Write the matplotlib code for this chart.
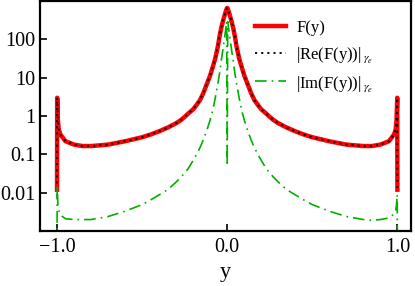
import matplotlib
matplotlib.use("Agg")
import matplotlib.pyplot as plt
from matplotlib.ticker import FixedLocator, FixedFormatter

plt.rcParams["font.family"] = ["Liberation Serif", "DejaVu Serif"]
plt.rcParams["mathtext.fontset"] = "stix"

# values (log scale)
y_pts = [-1.0, -0.999, -0.995, -0.99, -0.98, -0.95, -0.9, -0.85, -0.8, -0.7,
         -0.6, -0.5, -0.45, -0.4, -0.35, -0.3, -0.27, -0.25, -0.23, -0.2,
         -0.18, -0.16, -0.14, -0.12, -0.1, -0.085, -0.07, -0.055, -0.045,
         -0.035, -0.025, -0.015, -0.007, -0.003, 0.0,
         0.003, 0.007, 0.015, 0.025, 0.035, 0.045, 0.055, 0.07, 0.085, 0.1,
         0.12, 0.14, 0.16, 0.18, 0.2, 0.23, 0.25, 0.27, 0.3, 0.35, 0.4, 0.45,
         0.5, 0.6, 0.7, 0.8, 0.85, 0.9, 0.95, 0.98, 0.99, 0.995, 0.999, 1.0]

f_vals = [0.012, 3.0, 0.8, 0.45, 0.33, 0.22, 0.18, 0.165, 0.165, 0.18,
          0.22, 0.28, 0.33, 0.4, 0.5, 0.65, 0.8, 0.95, 1.15, 1.5,
          1.95, 2.6, 4.0, 6.8, 11.5, 19.0, 32.0, 65.0, 120.0,
          200.0, 300.0, 430.0, 560.0, 630.0, 660.0,
          630.0, 560.0, 430.0, 300.0, 200.0, 120.0, 65.0, 32.0, 19.0, 11.5,
          6.8, 4.0, 2.6, 1.95, 1.5, 1.15, 0.95, 0.8, 0.65, 0.5, 0.4, 0.33,
          0.28, 0.22, 0.18, 0.165, 0.165, 0.18, 0.22, 0.33, 0.45, 0.8, 3.0, 0.012]

re_vals = f_vals

im_vals = [0.0001, 0.016, 0.005, 0.0035, 0.0026, 0.0021, 0.002, 0.002, 0.002, 0.0024,
           0.0033, 0.0049, 0.0065, 0.0088, 0.012, 0.019, 0.026, 0.033, 0.042, 0.07,
           0.1, 0.15, 0.24, 0.42, 0.8, 1.4, 3.0, 7.0, 13.0,
           28.0, 55.0, 115.0, 210.0, 290.0, 0.05,
           290.0, 210.0, 115.0, 55.0, 28.0, 13.0, 7.0, 3.0, 1.4, 0.8,
           0.42, 0.24, 0.15, 0.1, 0.07, 0.042, 0.033, 0.026, 0.019, 0.012, 0.0088, 0.0065,
           0.0049, 0.0033, 0.0024, 0.002, 0.0019, 0.002, 0.0022, 0.0028, 0.0035, 0.005, 0.009, 0.0001]

ytick_vals = [0.01, 0.1, 1, 10, 100]
ytick_labels = ["0.01", "0.1", "1", "10", "100"]
xtick_vals = [-1.0, 0.0, 1.0]
xtick_labels = ["\u22121.0", "0.0", "1.0"]

fig = plt.figure(figsize=(4.15, 2.86), dpi=100)
ax = fig.add_axes([0.0964, 0.192, 0.894, 0.8045])

ax.plot(y_pts, f_vals, color="#ff0000", lw=3.2, label="F(y)")
ax.plot(y_pts, re_vals, color="black", lw=1.3, ls=(0, (1.2, 2.2)),
        label=r"|Re(F(y))|$\,_{\gamma_e}$")
ax.plot(y_pts, im_vals, color="#00b000", lw=1.2, ls=(0, (7, 3, 1, 3)),
        label=r"|Im(F(y))|$\,_{\gamma_e}$")

ax.set_yscale("log")
ax.set_ylim(1e-3, 1e3)
ax.set_xlim(-1.1, 1.08)
ax.yaxis.set_major_locator(FixedLocator(ytick_vals))
ax.yaxis.set_major_formatter(FixedFormatter(ytick_labels))
ax.yaxis.set_minor_locator(FixedLocator([]))
ax.set_xticks(xtick_vals)
ax.set_xticklabels(xtick_labels)
ax.tick_params(direction="in", labelsize=14.5, length=5, width=1.2)
ax.tick_params(axis="x", pad=5)
ax.set_xlabel("y", fontsize=16, labelpad=4)
for s in ax.spines.values():
    s.set_linewidth(1.6)

ax.legend(loc="upper right", frameon=False, fontsize=12, handlelength=1.9,
          handletextpad=0.6, labelspacing=0.55, borderaxespad=0.4,
          bbox_to_anchor=(0.935, 0.975))

fig.savefig("out.png", dpi=100)
